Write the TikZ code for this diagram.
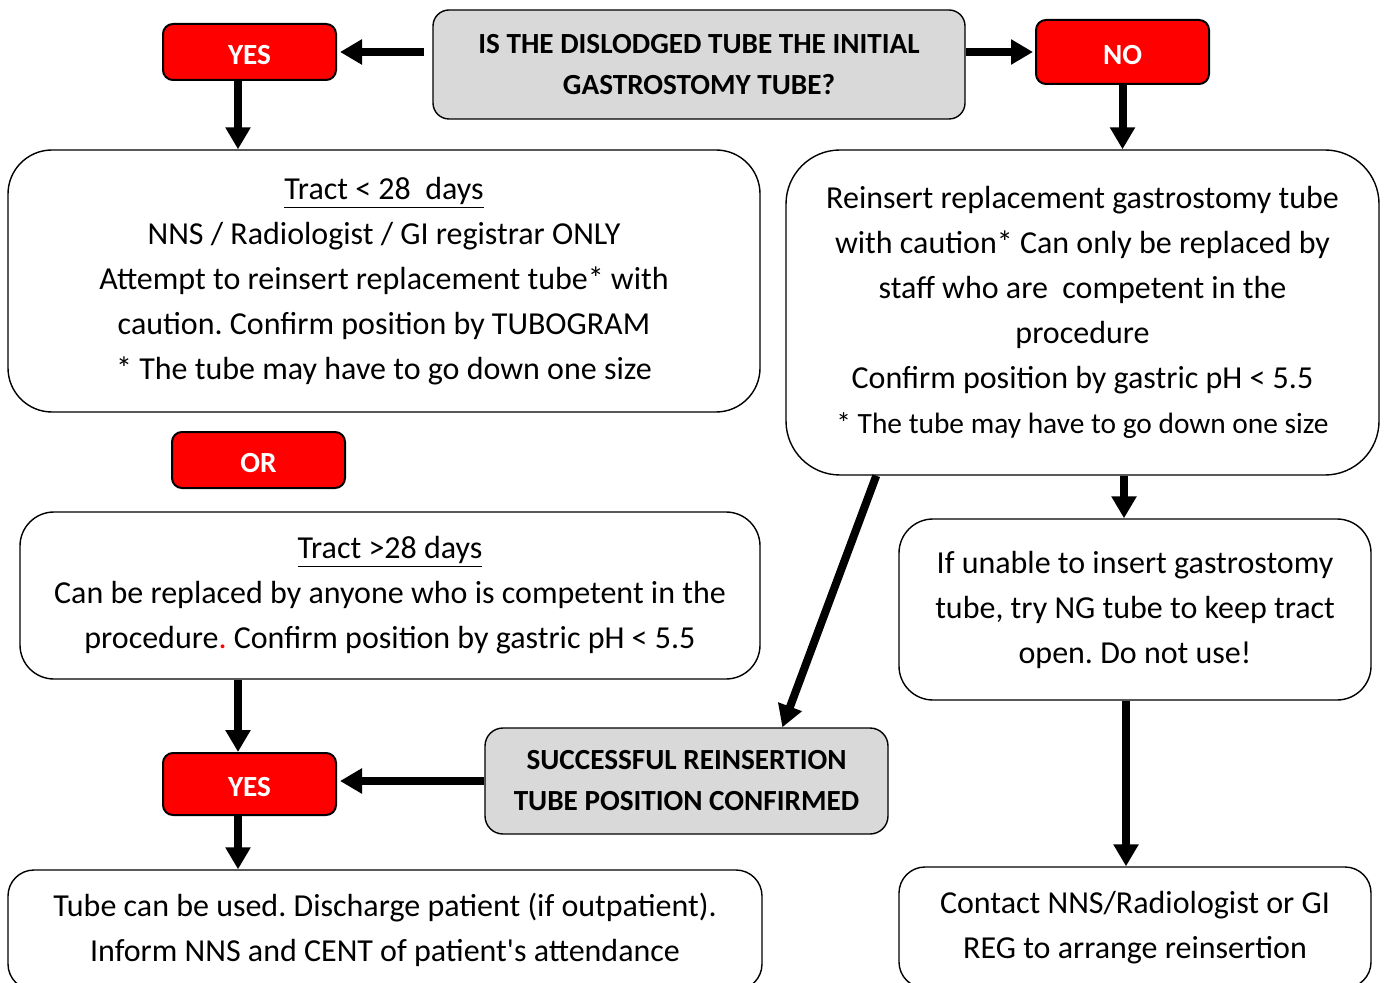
\documentclass[tikz,border=0pt]{standalone}
\usepackage{fontspec}
\setmainfont{Carlito}
\usepackage{tikz}
\usetikzlibrary{calc,positioning,arrows.meta,shapes}

\definecolor{boxgrey}{HTML}{D9D9D9}
\definecolor{boxred}{HTML}{FF0000}
\frenchspacing

\begin{document}
\begin{tikzpicture}[x=0.5pt,y=-0.5pt,
    txtbox/.style={draw=black, line width=0.7pt, fill=white, inner sep=0pt, align=center,
        font=\fontsize{16}{22.5}\selectfont},
    question/.style={draw=black, line width=0.7pt, fill=boxgrey, rounded corners=8pt, inner sep=0pt,
        align=center, font=\fontsize{14.6}{20.5}\selectfont\bfseries},
    answer/.style={draw=black, line width=1pt, fill=boxred, text=white, rounded corners=5pt,
        inner sep=0pt, minimum width=86.5pt, text height=12.5pt, text depth=0pt,
        font=\fontsize{14.6}{15}\selectfont\bfseries},
    arr/.style={line width=4pt, -{Triangle[length=11pt,width=12pt]}}]

    \useasboundingbox (0,0) rectangle (1384,983);

    % the question on top and the answers
    \node[question, minimum width=266pt, minimum height=54.5pt] (quest) at (699,64.5)
        {IS THE DISLODGED TUBE THE INITIAL\\GASTROSTOMY TUBE?};
    \node[answer, minimum height=28pt] (yesA) at (249.5,52) {YES};
    \node[answer, minimum height=32pt] (noA) at (1122.5,52) {NO};

    % left branch
    \node[txtbox, rounded corners=22pt, minimum width=376pt, minimum height=131pt] (tractA) at (384,281)
        {\underline{Tract < 28\ \ days}\\
         NNS / Radiologist / GI registrar ONLY\\
         Attempt to reinsert replacement tube* with\\
         caution. Confirm position by TUBOGRAM\\
         * The tube may have to go down one size};
    \node[answer, minimum height=28pt] (orA) at (258.5,460) {OR};
    \node[txtbox, rounded corners=17pt, minimum width=370pt, minimum height=83.5pt] (tractB) at (390,595.5)
        {\underline{Tract >28 days}\\
         Can be replaced by anyone who is competent in the\\
         procedure{\color{boxred}.} Confirm position by gastric pH < 5.5};

    % right branch
    \node[txtbox, rounded corners=27pt, minimum width=296.5pt, minimum height=162.5pt] (reins) at (1082.5,312.5)
        {Reinsert replacement gastrostomy tube\\
         with caution* Can only be replaced by\\
         staff who are\ \ competent in the\\
         procedure\\
         Confirm position by gastric pH < 5.5\\
         {\fontsize{14.7}{22.5}\selectfont * The tube may have to go down one size}};
    \node[txtbox, rounded corners=17pt, minimum width=236pt, minimum height=90.5pt] (unable) at (1135,609.5)
        {If unable to insert gastrostomy\\
         tube, try NG tube to keep tract\\
         open. Do not use!};

    % outcome and last steps
    \node[question, rounded corners=9pt, minimum width=201.5pt, minimum height=53pt] (success) at (686.5,781)
        {SUCCESSFUL REINSERTION\\TUBE POSITION CONFIRMED};
    \node[answer, minimum height=31pt] (yesB) at (249.5,784) {YES};
    \node[txtbox, rounded corners=13pt, minimum width=377pt, minimum height=60pt] (used) at (385,930)
        {Tube can be used. Discharge patient (if outpatient).\\
         Inform NNS and CENT of patient\textquotesingle s attendance};
    \node[txtbox, rounded corners=13pt, minimum width=236pt, minimum height=60.5pt] (contact) at (1135,927.5)
        {Contact NNS/Radiologist or GI\\
         REG to arrange reinsertion};

    % draw the arrows
    \draw[arr, shorten <=4pt, shorten >=1.5pt] (quest.west |- yesA.east) -- (yesA.east);
    \draw[arr, shorten >=1pt] (quest.east |- noA.west) -- (noA.west);
    \draw[arr] ([xshift=-5.75pt]yesA.south) -- ([xshift=-5.75pt]yesA.south |- tractA.north);
    \draw[arr] (noA.south) -- (noA.south |- reins.north);
    \draw[arr] ([xshift=-5.5pt]unable.north |- reins.south) -- ([xshift=-5.5pt]unable.north);
    \draw[arr] ($(reins.south west)!0.153!(reins.south east)$) -- ($(success.north west)!0.737!(success.north east)$);
    \draw[arr] ([xshift=-4.5pt]unable.south) -- ([xshift=-4.5pt]contact.north);
    \draw[arr] ([xshift=-5.75pt]yesB.north |- tractB.south) -- ([xshift=-5.75pt]yesB.north);
    \draw[arr, shorten >=1.5pt] (success.west) -- (yesB.east |- success.west);
    \draw[arr] ([xshift=-5.75pt]yesB.south) -- ([xshift=-5.75pt]yesB.south |- used.north);

\end{tikzpicture}
\end{document}
